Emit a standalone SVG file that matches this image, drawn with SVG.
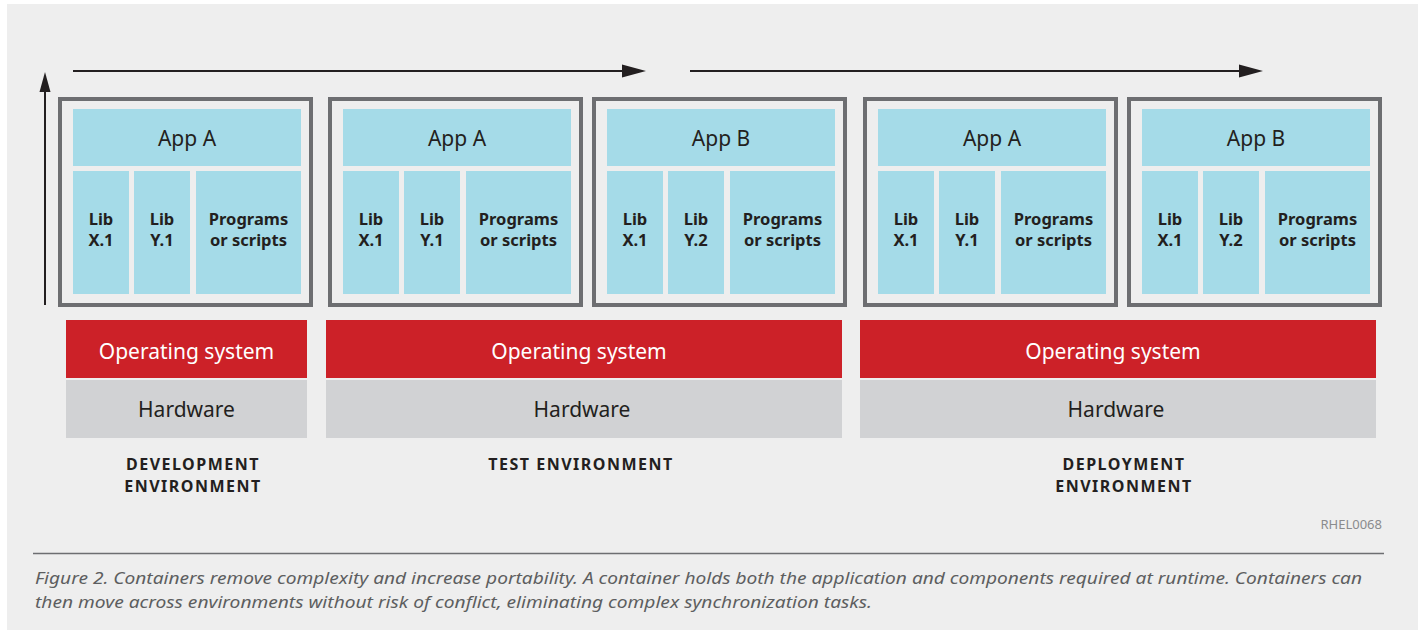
<svg xmlns="http://www.w3.org/2000/svg" width="1418" height="630" viewBox="0 0 1418 630">
<style>
.bg{fill:#eeeeee}
.frame{fill:none;stroke:#6d6e71;stroke-width:4}
.cy{fill:#a5dbe8}
.os{fill:#cc2128}
.hw{fill:#d1d2d4}
.t{font-family:"Noto Sans","Liberation Sans",sans-serif;fill:#231f20;text-anchor:middle}
.app{font-size:21px}
.lib{font-size:16.5px;font-weight:bold}
.ost{font-size:21px;fill:#ffffff}
.hwt{font-size:21px}
.env{font-size:16px;font-weight:bold;letter-spacing:1.5px}
.cap{font-family:"Noto Sans","Liberation Sans",sans-serif;font-size:16.5px;font-style:italic;fill:#5d5e60}
.ref{font-family:"Noto Sans","Liberation Sans",sans-serif;font-size:13px;fill:#8a8b8d;text-anchor:end}
.ln{stroke:#231f20;stroke-width:2;fill:none}
.ah{fill:#231f20}
</style>
<rect class="bg" x="7" y="4" width="1411" height="626"/>

<g id="connectors">
<line class="ln" x1="45" y1="305" x2="45" y2="88"/>
<polygon class="ah" points="45,72 39.5,92 50.5,92"/>
<line class="ln" x1="73" y1="71" x2="626" y2="71"/>
<polygon class="ah" points="646,71 622,64.5 622,77.5"/>
<line class="ln" x1="690" y1="71" x2="1243" y2="71"/>
<polygon class="ah" points="1263,71 1239,64.5 1239,77.5"/>
</g>

<g id="dev-container">
<rect class="frame" x="60" y="99" width="251" height="206"/>
<rect class="cy" x="73" y="109" width="228" height="57"/>
<rect class="cy" x="73" y="171" width="56" height="123"/>
<rect class="cy" x="134" y="171" width="56" height="123"/>
<rect class="cy" x="196" y="171" width="105" height="123"/>
<text class="t app" x="187" y="146">App A</text>
<text class="t lib" x="101" y="225">Lib</text><text class="t lib" x="101" y="246">X.1</text>
<text class="t lib" x="162" y="225">Lib</text><text class="t lib" x="162" y="246">Y.1</text>
<text class="t lib" x="248.5" y="225">Programs</text><text class="t lib" x="248.5" y="246">or scripts</text>
</g>

<g id="test-container-a">
<rect class="frame" x="330" y="99" width="251" height="206"/>
<rect class="cy" x="343" y="109" width="228" height="57"/>
<rect class="cy" x="343" y="171" width="56" height="123"/>
<rect class="cy" x="404" y="171" width="56" height="123"/>
<rect class="cy" x="466" y="171" width="105" height="123"/>
<text class="t app" x="457" y="146">App A</text>
<text class="t lib" x="371" y="225">Lib</text><text class="t lib" x="371" y="246">X.1</text>
<text class="t lib" x="432" y="225">Lib</text><text class="t lib" x="432" y="246">Y.1</text>
<text class="t lib" x="518.5" y="225">Programs</text><text class="t lib" x="518.5" y="246">or scripts</text>
</g>

<g id="test-container-b">
<rect class="frame" x="594" y="99" width="251" height="206"/>
<rect class="cy" x="607" y="109" width="228" height="57"/>
<rect class="cy" x="607" y="171" width="56" height="123"/>
<rect class="cy" x="668" y="171" width="56" height="123"/>
<rect class="cy" x="730" y="171" width="105" height="123"/>
<text class="t app" x="721" y="146">App B</text>
<text class="t lib" x="635" y="225">Lib</text><text class="t lib" x="635" y="246">X.1</text>
<text class="t lib" x="696" y="225">Lib</text><text class="t lib" x="696" y="246">Y.2</text>
<text class="t lib" x="782.5" y="225">Programs</text><text class="t lib" x="782.5" y="246">or scripts</text>
</g>

<g id="deploy-container-a">
<rect class="frame" x="865" y="99" width="251" height="206"/>
<rect class="cy" x="878" y="109" width="228" height="57"/>
<rect class="cy" x="878" y="171" width="56" height="123"/>
<rect class="cy" x="939" y="171" width="56" height="123"/>
<rect class="cy" x="1001" y="171" width="105" height="123"/>
<text class="t app" x="992" y="146">App A</text>
<text class="t lib" x="906" y="225">Lib</text><text class="t lib" x="906" y="246">X.1</text>
<text class="t lib" x="967" y="225">Lib</text><text class="t lib" x="967" y="246">Y.1</text>
<text class="t lib" x="1053.5" y="225">Programs</text><text class="t lib" x="1053.5" y="246">or scripts</text>
</g>

<g id="deploy-container-b">
<rect class="frame" x="1129" y="99" width="251" height="206"/>
<rect class="cy" x="1142" y="109" width="228" height="57"/>
<rect class="cy" x="1142" y="171" width="56" height="123"/>
<rect class="cy" x="1203" y="171" width="56" height="123"/>
<rect class="cy" x="1265" y="171" width="105" height="123"/>
<text class="t app" x="1256" y="146">App B</text>
<text class="t lib" x="1170" y="225">Lib</text><text class="t lib" x="1170" y="246">X.1</text>
<text class="t lib" x="1231" y="225">Lib</text><text class="t lib" x="1231" y="246">Y.2</text>
<text class="t lib" x="1317.5" y="225">Programs</text><text class="t lib" x="1317.5" y="246">or scripts</text>
</g>

<g id="dev-os">
<rect class="os" x="66" y="320" width="241" height="58"/>
<text class="t ost" x="186.5" y="359">Operating system</text>
</g>
<g id="dev-hw">
<rect class="hw" x="66" y="380" width="241" height="58"/>
<text class="t hwt" x="186.5" y="417">Hardware</text>
</g>
<g id="test-os">
<rect class="os" x="326" y="320" width="516" height="58"/>
<text class="t ost" x="579" y="359">Operating system</text>
</g>
<g id="test-hw">
<rect class="hw" x="326" y="380" width="516" height="58"/>
<text class="t hwt" x="582" y="417">Hardware</text>
</g>
<g id="deploy-os">
<rect class="os" x="860" y="320" width="516" height="58"/>
<text class="t ost" x="1113" y="359">Operating system</text>
</g>
<g id="deploy-hw">
<rect class="hw" x="860" y="380" width="516" height="58"/>
<text class="t hwt" x="1116" y="417">Hardware</text>
</g>

<g id="labels">
<text class="t env" x="193" y="470">DEVELOPMENT</text>
<text class="t env" x="193" y="492">ENVIRONMENT</text>
<text class="t env" x="581" y="470">TEST ENVIRONMENT</text>
<text class="t env" x="1124" y="470">DEPLOYMENT</text>
<text class="t env" x="1124" y="492">ENVIRONMENT</text>
<text class="ref" x="1382" y="529">RHEL0068</text>
</g>

<line x1="33" y1="553.5" x2="1384" y2="553.5" stroke="#6d6e71" stroke-width="1.5"/>
<text class="cap" x="35" y="584" textLength="1327" lengthAdjust="spacingAndGlyphs">Figure 2. Containers remove complexity and increase portability. A container holds both the application and components required at runtime. Containers can</text>
<text class="cap" x="35" y="608" textLength="837" lengthAdjust="spacingAndGlyphs">then move across environments without risk of conflict, eliminating complex synchronization tasks.</text>
</svg>
